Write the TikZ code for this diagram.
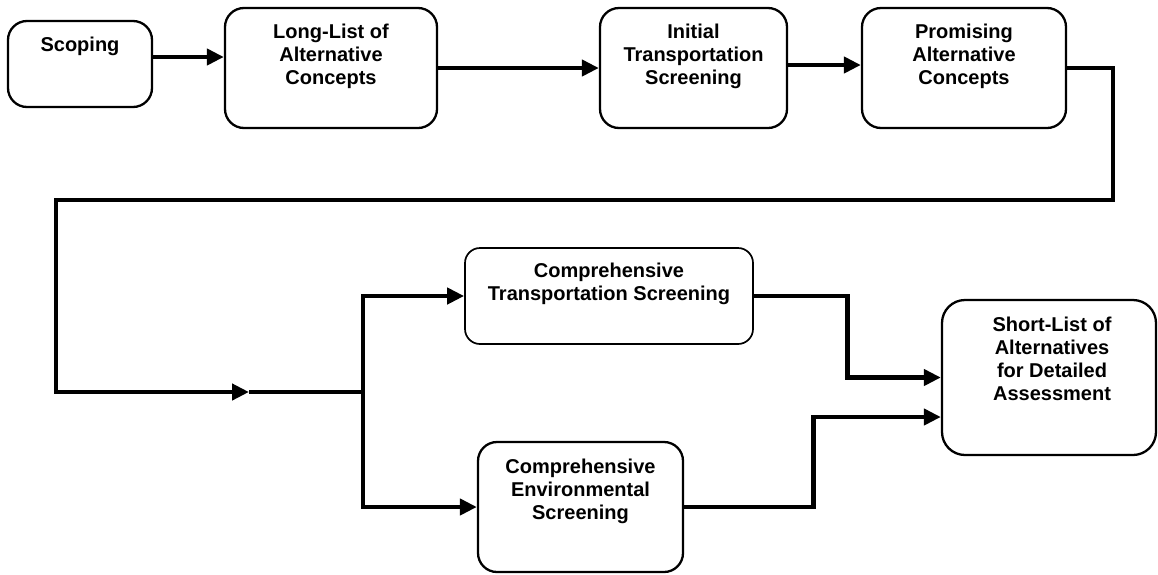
\documentclass[tikz,border=0pt]{standalone}
\usepackage{fontspec}
\setmainfont{Liberation Sans}
\usetikzlibrary{arrows.meta}
\begin{document}
\begin{tikzpicture}[x=1pt,y=-1pt,
  box/.style={draw=black,line width=2.3pt,rounded corners=19pt,inner sep=0pt},
  lbl/.style={anchor=north,align=center,inner sep=0pt,
    font=\fontsize{20}{23}\selectfont\bfseries},
  conn/.style={line width=4.8pt,-{Triangle[length=17pt,width=16pt]}},
  seg/.style={line width=4.8pt}]
\useasboundingbox (0,0) rectangle (1158,574);
\newcommand{\fl}{\rule{0pt}{15pt}}
% boxes
\node[box,minimum width=144pt,minimum height=86pt] (scop) at (80,64) {};
\node[box,minimum width=212pt,minimum height=120pt] (longl) at (331,68) {};
\node[box,minimum width=187pt,minimum height=120pt] (init) at (693.5,68) {};
\node[box,minimum width=204pt,minimum height=120pt] (prom) at (964,68) {};
\node[box,line width=1.7pt,rounded corners=15pt,minimum width=288pt,minimum height=96pt] (ct) at (609,296) {};
\node[box,minimum width=205pt,minimum height=130pt] (env) at (580.5,507) {};
\node[box,rounded corners=23pt,minimum width=214pt,minimum height=155pt] (sl) at (1049,377.5) {};
% labels
\node[lbl,yshift=-16pt] (scopT) at (scop.north) {\fl Scoping};
\node[lbl,yshift=-16pt] (longlT) at (longl.north) {\fl Long-List of\\Alternative\\Concepts};
\node[lbl,yshift=-16pt] (initT) at (init.north) {\fl Initial\\Transportation\\Screening};
\node[lbl,yshift=-16pt] (promT) at (prom.north) {\fl Promising\\Alternative\\Concepts};
\node[lbl,yshift=-15pt] (ctT) at (ct.north) {\fl Comprehensive\\Transportation Screening};
\node[lbl,yshift=-17pt] (envT) at (env.north) {\fl Comprehensive\\Environmental\\Screening};
\node[lbl,yshift=-17pt,xshift=3pt] (slT) at (sl.north) {\fl Short-List of\\Alternatives\\for Detailed\\Assessment};
% coordinates
\coordinate (turnR) at (1113,200);
\coordinate (turnL) at (56,200);
\coordinate (botL) at (56,392);
\coordinate (arrtip) at (249,392);
\coordinate (split) at (363,392);
% connectors
\draw[conn] ([yshift=7pt]scop.east) -- ([yshift=7pt]scop.east -| longl.west);
\draw[conn] (longl.east) -- (init.west);
\draw[conn] ([yshift=3pt]init.east) -- ([yshift=3pt]init.east -| prom.west);
\draw[conn] (prom.east) -| (turnR) -- (turnL) -- (botL) -- (arrtip);
\draw[seg] (arrtip) -- (split);
\draw[conn] (split) |- (ct.west);
\draw[conn] (split) |- (env.west);
\draw[conn] (ct.east) -- ++(94,0) |- (sl.west);
\draw[conn] (env.east) -- ++(129,0) |- ([yshift=-39.5pt]sl.west);
\end{tikzpicture}
\end{document}
